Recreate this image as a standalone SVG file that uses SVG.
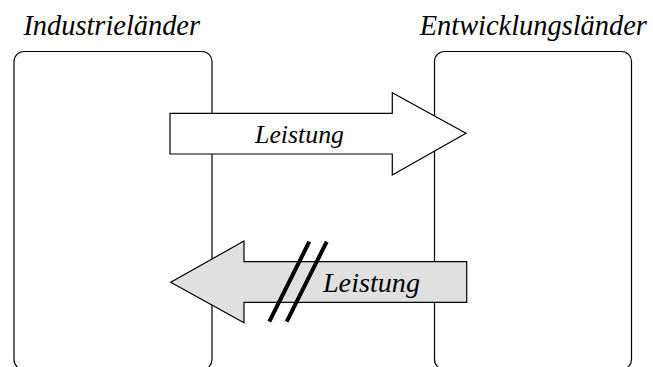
<svg xmlns="http://www.w3.org/2000/svg" width="653" height="367" viewBox="0 0 653 367">
<style>
.box{fill:none;stroke:#000;stroke-width:1.2}
.arr{stroke:#000;stroke-width:1.2;stroke-linejoin:miter}
.t{font-family:'Liberation Serif','Times New Roman',serif;font-style:italic;fill:#000;text-anchor:middle}
.slash{stroke:#000;stroke-width:4}
</style>
<rect width="653" height="367" fill="#fff"/>
<g id="industrielaender">
<rect class="box" x="14" y="51.5" width="198" height="318" rx="10"/>
<text class="t" x="111.7" y="35" font-size="28.4">Industrieländer</text>
</g>
<g id="entwicklungslaender">
<rect class="box" x="434.5" y="51.5" width="197" height="318" rx="10"/>
<text class="t" x="533.3" y="35" font-size="28.4">Entwicklungsländer</text>
</g>
<g id="connectors">
<g id="leistung-hin">
<polygon class="arr" fill="#fff" points="170,113.3 392.3,113.3 392.3,92.7 466,133.3 392.3,175 392.3,154 170,154"/>
<text class="t" x="299.5" y="143" font-size="25.8">Leistung</text>
</g>
<g id="leistung-rueck">
<polygon class="arr" fill="#e0e0e0" points="466.7,261.7 244,261.7 244,241 170.7,282.3 244,322.7 244,302.3 466.7,302.3"/>
<line class="slash" x1="309.3" y1="241.7" x2="269.3" y2="321.7"/>
<line class="slash" x1="326.7" y1="241.7" x2="286.7" y2="321.7"/>
<text class="t" x="371.5" y="291.5" font-size="28.2">Leistung</text>
</g>
</g>
</svg>
